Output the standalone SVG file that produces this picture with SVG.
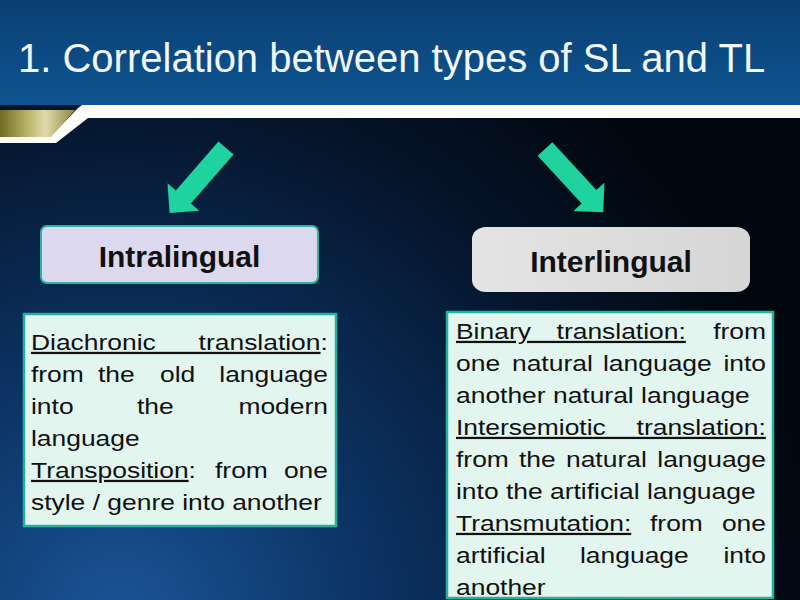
<svg xmlns="http://www.w3.org/2000/svg" width="800" height="600" viewBox="0 0 800 600">
<defs>
<linearGradient id="hdr" x1="0" y1="0" x2="0" y2="1">
<stop offset="0" stop-color="#0a3f73"/>
<stop offset="1" stop-color="#0e5590"/>
</linearGradient>
<radialGradient id="bodybg" cx="120" cy="620" r="700" gradientUnits="userSpaceOnUse">
<stop offset="0" stop-color="#1a5596"/>
<stop offset="0.35" stop-color="#0c3465"/>
<stop offset="0.75" stop-color="#05142a"/>
<stop offset="1" stop-color="#02070f"/>
</radialGradient>
<linearGradient id="gold" x1="0" y1="0" x2="1" y2="0">
<stop offset="0" stop-color="#6e6a24"/>
<stop offset="0.35" stop-color="#b6b064"/>
<stop offset="0.6" stop-color="#e0dcaa"/>
<stop offset="1" stop-color="#8e8840"/>
</linearGradient>
<linearGradient id="grey" x1="0" y1="0" x2="1" y2="0">
<stop offset="0" stop-color="#e4e4e4"/>
<stop offset="1" stop-color="#d6d6d6"/>
</linearGradient>
<path id="arrowShape" d="M0,-10 L65,-10 L65,-21 L86,0 L65,21 L65,10 L0,10 Z"/>
</defs>
<style>
.title{font-family:"Liberation Sans",Arial,sans-serif;font-size:40px;fill:#f2f8ff}
.head{font-family:"Liberation Sans",Arial,sans-serif;font-size:30px;font-weight:bold;fill:#111111;text-anchor:middle}
.body{font-family:"Liberation Sans",Arial,sans-serif;font-size:22.5px;fill:#111111}
.end{text-anchor:end}
.u{text-decoration:underline}
.arrow{fill:#1fd39e}
.txtbox{fill:#e2f5ef;stroke:#22b39c;stroke-width:2.5}
</style>

<rect x="0" y="0" width="800" height="600" fill="url(#bodybg)"/>
<rect x="0" y="0" width="800" height="105" fill="url(#hdr)"/>
<polygon points="82,105 800,105 800,118 88,118 56,143 0,143 0,137 50,137 78,108" fill="#fbfdf6"/>
<polygon points="0,110 75,110 51,137 0,137" fill="url(#gold)"/>

<text class="title" x="18" y="72">1. Correlation between types of SL and TL</text>

<g id="connectors">
<use href="#arrowShape" class="arrow" transform="translate(226,148) rotate(131)"/>
<use href="#arrowShape" class="arrow" transform="translate(545,149) rotate(47.4)"/>
</g>

<g id="intralingual">
<rect x="41" y="226" width="277" height="57" rx="6" fill="#dcd9ef" stroke="#2bb3a0" stroke-width="2"/>
<text class="head" x="179.5" y="267">Intralingual</text>
</g>

<g id="interlingual">
<rect x="472" y="227" width="278" height="65" rx="14" ry="12" fill="url(#grey)"/>
<text class="head" x="611" y="272">Interlingual</text>
</g>

<g id="intralingual-desc">
<rect class="txtbox" x="24" y="314" width="312" height="212"/>
<g transform="scale(1.175,1)">
<text class="body" x="26.38" y="350" word-spacing="30.2"><tspan class="u">Diachronic translation</tspan>:</text>
<text class="body" y="382"><tspan x="26.38">from</tspan><tspan x="83.40">the</tspan><tspan x="136.17">old</tspan></text>
<text class="body end" x="279.15" y="382">language</text>
<text class="body" y="414"><tspan x="26.38">into</tspan><tspan x="116.60">the</tspan></text>
<text class="body end" x="279.15" y="414">modern</text>
<text class="body" x="26.38" y="446">language</text>
<text class="body" y="478"><tspan x="26.38" class="u">Transposition</tspan><tspan>:</tspan><tspan x="182.98">from</tspan></text>
<text class="body end" x="279.15" y="478">one</text>
<text class="body" x="26.38" y="510">style / genre into another</text>
</g>
</g>

<g id="interlingual-desc">
<rect class="txtbox" x="447" y="312" width="326" height="286"/>
<g transform="scale(1.175,1)">
<text class="body" x="388.09" y="339" word-spacing="15.6"><tspan class="u">Binary translation:</tspan></text>
<text class="body end" x="651.91" y="339">from</text>
<text class="body" y="371"><tspan x="388.09">one</tspan><tspan x="435.74">natural</tspan><tspan x="513.19">language</tspan></text>
<text class="body end" x="651.91" y="371">into</text>
<text class="body" x="388.09" y="403">another natural language</text>
<text class="body" x="388.09" y="435" word-spacing="20"><tspan class="u">Intersemiotic translation:</tspan></text>
<text class="body" y="467"><tspan x="388.09">from</tspan><tspan x="441.70">the</tspan><tspan x="481.70">natural</tspan></text>
<text class="body end" x="651.91" y="467">language</text>
<text class="body" x="388.09" y="499">into the artificial language</text>
<text class="body" y="531"><tspan x="388.09" class="u">Transmutation:</tspan><tspan x="553.19">from</tspan></text>
<text class="body end" x="651.91" y="531">one</text>
<text class="body" y="563"><tspan x="388.09">artificial</tspan><tspan x="493.62">language</tspan></text>
<text class="body end" x="651.91" y="563">into</text>
<text class="body" x="388.09" y="595">another</text>
</g>
</g>
</svg>
